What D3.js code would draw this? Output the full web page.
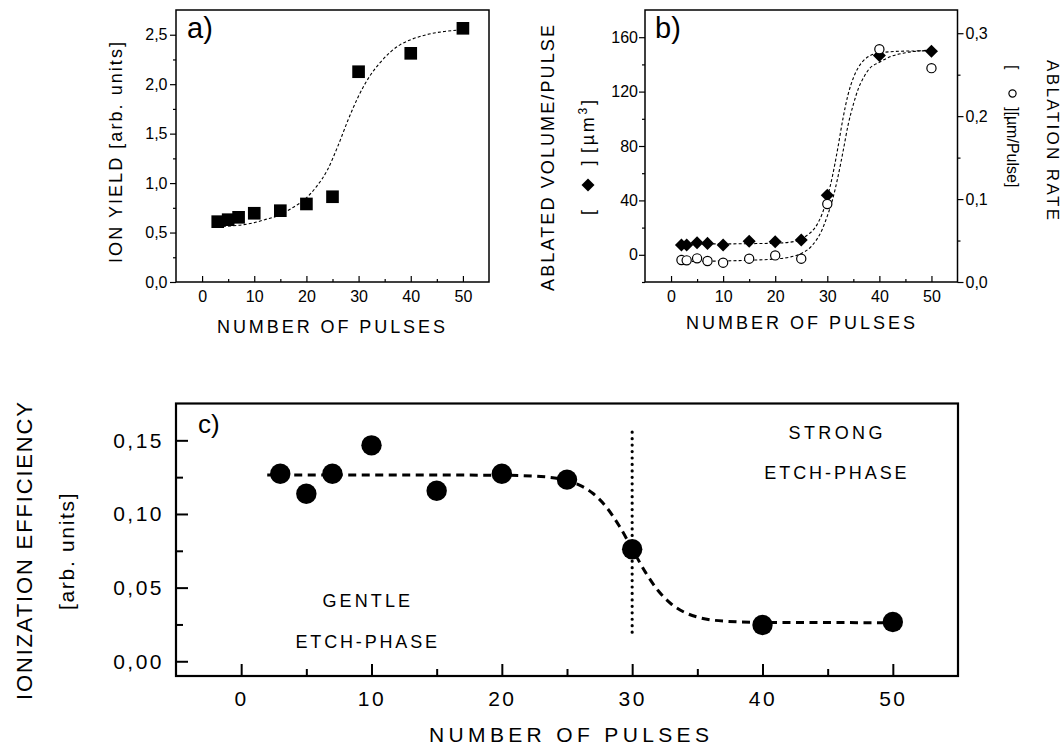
<!DOCTYPE html>
<html>
<head>
<meta charset="utf-8">
<script src="https://cdn.jsdelivr.net/npm/d3@7"></script>
<style>
  html, body { margin: 0; padding: 0; background: #fff; }
  svg { display: block; font-family: "Liberation Sans", Arial, Helvetica, sans-serif; }
</style>
</head>
<body>
<svg id="fig" width="1064" height="747"></svg>
<script>
// ---------- data ----------
// a) ion yield vs number of pulses
const aPulses   = [3, 5, 7, 10, 15, 20, 25, 30, 40, 50];
const aIonYield = [0.61, 0.63, 0.654, 0.695, 0.721, 0.789, 0.862, 2.126, 2.312, 2.565];
const aFitX = [3, 5, 8, 10, 12, 15, 17, 20, 22, 24, 26, 28, 30, 32, 34, 36, 38, 40, 43, 46, 50];
const aFitY = [0.557, 0.565, 0.58, 0.6, 0.63, 0.68, 0.74, 0.85, 0.97, 1.13, 1.37, 1.64, 1.88, 2.07, 2.21, 2.32, 2.40, 2.45, 2.50, 2.53, 2.55];

// b) ablated volume per pulse (left axis) and ablation rate (right axis)
const bPulses = [2, 3, 5, 7, 10, 15, 20, 25, 30, 40, 50];
const bVolume = [7.2, 7.2, 8.9, 8.4, 7.2, 9.9, 9.6, 10.9, 43.8, 146.5, 149.6];
const bRate   = [0.0265, 0.0261, 0.0285, 0.0253, 0.0233, 0.0281, 0.0321, 0.0281, 0.094, 0.2808, 0.2579];
const bVolFitX = [2, 10, 15, 20, 24, 26, 28, 29, 30, 31, 32, 33, 34, 35, 36, 37, 38, 40, 45, 50];
const bVolFitY = [8, 8, 8.2, 8.5, 10, 14, 22, 30, 42, 58, 78, 100, 118, 130, 138, 143, 146, 148.5, 149.8, 150];
const bRateFitX = [2, 10, 15, 20, 23, 25, 27, 29, 30, 31, 32, 33, 34, 35, 36, 37, 38, 40, 42, 45, 50];
const bRateFitY = [0.0245, 0.0254, 0.0262, 0.0278, 0.0303, 0.0344, 0.0434, 0.0631, 0.0795, 0.0992, 0.1255, 0.1566, 0.1895, 0.2141, 0.2338, 0.2469, 0.2567, 0.2649, 0.2715, 0.2764, 0.2797];

// c) ionization efficiency
const cPulses     = [3, 5, 7, 10, 15, 20, 25, 30, 40, 50];
const cEfficiency = [0.1273, 0.1137, 0.1273, 0.1466, 0.1158, 0.1273, 0.1233, 0.0761, 0.0246, 0.0267];
const cFitX = [2, 10, 20, 23, 25, 26, 27, 28, 29, 30, 31, 32, 33, 34, 35, 37, 40, 50];
const cFitY = [0.1265, 0.1265, 0.1263, 0.1254, 0.1227, 0.1194, 0.1139, 0.1049, 0.092, 0.0764, 0.0607, 0.0479, 0.0389, 0.0333, 0.030, 0.0273, 0.0264, 0.0262];
const cPhaseBoundary = 30;
const cBoundaryRange = [0.0183, 0.1555];

// tick values
const pulseTicks      = [0, 10, 20, 30, 40, 50];
const pulseMinorTicks = [5, 15, 25, 35, 45];
const aYTicks      = [0, 0.5, 1.0, 1.5, 2.0, 2.5];
const aYMinorTicks = [0.25, 0.75, 1.25, 1.75, 2.25];
const bLeftTicks       = [0, 40, 80, 120, 160];
const bLeftMinorTicks  = [-20, 20, 60, 100, 140];
const bRightTicks      = [0, 0.1, 0.2, 0.3];
const bRightMinorTicks = [0.05, 0.15, 0.25];
const cYTicks      = [0, 0.05, 0.10, 0.15];
const cYMinorTicks = [0.025, 0.075, 0.125];

// ---------- helpers ----------
const svg = d3.select("#fig");
const FONT = '"Liberation Sans", Arial, Helvetica, sans-serif';
const INK = "#000";
const comma = d3.formatLocale({ decimal: ",", thousands: ".", grouping: [3], currency: ["", ""] });
const f1 = comma.format(".1f"), f2 = comma.format(".2f"), fInt = d3.format("d");

function styleAxis(g, fontSize, sw, spacing) {
  g.attr("font-family", FONT).attr("font-size", null);
  g.select(".domain").remove();
  g.selectAll(".tick line").attr("stroke", INK).attr("stroke-width", sw);
  g.selectAll(".tick text").attr("fill", INK).style("font-size", fontSize + "px")
    .style("letter-spacing", (spacing || 0) + "px");
}

function axis(maker, scale, ticks, minor, fmt, major, minLen, pad, pos, fontSize, sw, spacing) {
  const g = svg.append("g").attr("transform", pos);
  g.call(maker(scale).tickValues(minor).tickFormat("").tickSizeInner(minLen).tickSizeOuter(0));
  styleAxis(g, fontSize, sw);
  const g2 = svg.append("g").attr("transform", pos);
  g2.call(maker(scale).tickValues(ticks).tickFormat(fmt).tickSizeInner(major).tickSizeOuter(0).tickPadding(pad));
  styleAxis(g2, fontSize, sw, spacing);
  return g2;
}

function label(x, y, txt, size, len, rot, anchor) {
  const t = svg.append("text")
    .attr("transform", `translate(${x},${y})` + (rot ? ` rotate(${rot})` : ""))
    .attr("text-anchor", anchor || "middle")
    .attr("font-size", size).attr("fill", INK)
    .text(txt);
  if (len) t.attr("textLength", len).attr("lengthAdjust", "spacing");
  return t;
}

function frame(x0, y0, x1, y1, sw) {
  svg.append("rect").attr("x", x0).attr("y", y0).attr("width", x1 - x0).attr("height", y1 - y0)
    .attr("fill", "none").attr("stroke", INK).attr("stroke-width", sw);
}

// ---------- panel a ----------
const aL = 176, aR = 489, aT = 10, aB = 282;
const xA = d3.scaleLinear([-5, 55], [aL, aR]);
const yA = d3.scaleLinear([0, 2.75], [aB, aT]);

axis(d3.axisBottom, xA, pulseTicks, pulseMinorTicks, fInt, -6, -3, 8.5, `translate(0,${aB})`, 16, 1.2);
axis(d3.axisLeft, yA, aYTicks, aYMinorTicks, f1, 6, 3, 2.5, `translate(${aL},0)`, 16, 1.2);

svg.append("path")
  .datum(d3.zip(aFitX, aFitY))
  .attr("fill", "none").attr("stroke", INK).attr("stroke-width", 1.1)
  .attr("stroke-dasharray", "3,2.2")
  .attr("d", d3.line().x(d => xA(d[0])).y(d => yA(d[1])).curve(d3.curveMonotoneX));

svg.append("g").selectAll("path")
  .data(d3.zip(aPulses, aIonYield)).join("path")
  .attr("transform", d => `translate(${xA(d[0])},${yA(d[1])})`)
  .attr("d", d3.symbol(d3.symbolSquare, 160))
  .attr("fill", INK);

frame(aL, aT, aR, aB, 1.5);
label(187, 38, "a)", 29, null, 0, "start");
label(331, 333, "NUMBER OF PULSES", 18, 228);
label(122, 152.5, "ION YIELD [arb. units]", 18, 221, -90);

// ---------- panel b ----------
const bL = 645, bR = 957.5, bT = 10, bB = 282;
const xB  = d3.scaleLinear([-5, 55], [bL, bR]);
const yBL = d3.scaleLinear([-20, 180], [bB, bT]);
const yBR = d3.scaleLinear([0, 0.328], [bB, bT]);

axis(d3.axisBottom, xB, pulseTicks, pulseMinorTicks, fInt, -6, -3, 8.5, `translate(0,${bB})`, 16, 1.2);
axis(d3.axisLeft, yBL, bLeftTicks, bLeftMinorTicks, fInt, 6, 3, 1, `translate(${bL},0)`, 16, 1.2);
axis(d3.axisRight, yBR, bRightTicks, bRightMinorTicks, f1, 6, 3, 2, `translate(${bR},0)`, 16, 1.2);

const fitLine = (xs, ys, y) => d3.line().x(d => xB(d[0])).y(d => y(d[1])).curve(d3.curveMonotoneX)(d3.zip(xs, ys));
svg.append("path").attr("d", fitLine(bVolFitX, bVolFitY, yBL))
  .attr("fill", "none").attr("stroke", INK).attr("stroke-width", 1.1).attr("stroke-dasharray", "3,2.2");
svg.append("path").attr("d", fitLine(bRateFitX, bRateFitY, yBR))
  .attr("fill", "none").attr("stroke", INK).attr("stroke-width", 1.1).attr("stroke-dasharray", "3,2.2");

const diamond = d3.symbol(d3.symbolSquare, 85);
svg.append("g").selectAll("path")
  .data(d3.zip(bPulses, bVolume)).join("path")
  .attr("transform", d => `translate(${xB(d[0])},${yBL(d[1])}) rotate(45)`)
  .attr("d", diamond).attr("fill", INK);

svg.append("g").selectAll("circle")
  .data(d3.zip(bPulses, bRate)).join("circle")
  .attr("cx", d => xB(d[0])).attr("cy", d => yBR(d[1])).attr("r", 4.6)
  .attr("fill", "#fff").attr("stroke", INK).attr("stroke-width", 1.2);

frame(bL, bT, bR, bB, 1.5);
label(655, 38, "b)", 29, null, 0, "start");
label(800.5, 328.5, "NUMBER OF PULSES", 18, 229);
label(554, 158, "ABLATED VOLUME/PULSE", 18, 266, -90);

// left unit line: [ ◆ ] [µm³]
const bUnitL = svg.append("g").attr("transform", "translate(594,157.5) rotate(-90)").attr("font-size", 18).attr("fill", INK);
bUnitL.append("text").attr("x", -57.5).attr("text-anchor", "start").text("[");
bUnitL.append("path").attr("transform", "translate(-27.5,-6) rotate(45)").attr("d", diamond).attr("fill", INK);
bUnitL.append("text").attr("x", -5.5).attr("text-anchor", "middle").text("]");
const muL = bUnitL.append("text").attr("x", 4.5).attr("text-anchor", "start")
  .attr("textLength", 53).attr("lengthAdjust", "spacing");
muL.append("tspan").text("[µm");
muL.append("tspan").attr("dy", -7).attr("font-size", 12).text("3");
muL.append("tspan").attr("dy", 7).text("]");

// right axis title and unit line: [ ○ ][µm/Pulse]
label(1047, 140, "ABLATION RATE", 17, 160, 90);
const bUnitR = svg.append("g").attr("transform", "translate(1007,0) rotate(90)").attr("font-size", 16).attr("fill", INK);
bUnitR.append("text").attr("x", 65).attr("text-anchor", "start").text("[");
bUnitR.append("circle").attr("cx", 93.5).attr("cy", -5.5).attr("r", 3.6)
  .attr("fill", "#fff").attr("stroke", INK).attr("stroke-width", 1.2);
bUnitR.append("text").attr("x", 107).attr("text-anchor", "start").text("][µm/Pulse]");

// ---------- panel c ----------
const cL = 176, cR = 958, cT = 403.5, cB = 676;
const xC = d3.scaleLinear([-5, 55], [cL, cR]);
const yC = d3.scaleLinear([-0.01, 0.175], [cB, cT]);

axis(d3.axisBottom, xC, pulseTicks, pulseMinorTicks, fInt, -12, -7, 15.5, `translate(0,${cB})`, 21, 2, 2.5);
axis(d3.axisLeft, yC, cYTicks, cYMinorTicks, f2, -12, -7, 12, `translate(${cL},0)`, 21, 2, 2.5);

// phase boundary
svg.append("line")
  .attr("x1", xC(cPhaseBoundary)).attr("x2", xC(cPhaseBoundary))
  .attr("y1", yC(cBoundaryRange[1])).attr("y2", yC(cBoundaryRange[0]))
  .attr("stroke", INK).attr("stroke-width", 3.2).attr("stroke-linecap", "round")
  .attr("stroke-dasharray", "0,6.45");

svg.append("path")
  .datum(d3.zip(cFitX, cFitY))
  .attr("fill", "none").attr("stroke", INK).attr("stroke-width", 3)
  .attr("stroke-dasharray", "8,5.5")
  .attr("d", d3.line().x(d => xC(d[0])).y(d => yC(d[1])).curve(d3.curveMonotoneX));

svg.append("g").selectAll("circle")
  .data(d3.zip(cPulses, cEfficiency)).join("circle")
  .attr("cx", d => xC(d[0])).attr("cy", d => yC(d[1])).attr("r", 10.2)
  .attr("fill", INK);

frame(cL, cT, cR, cB, 2.2);
label(198, 433, "c)", 26, null, 0, "start");
label(xC(9.6), yC(0.0369), "GENTLE", 18, 87.7);
label(xC(9.6), yC(0.009), "ETCH-PHASE", 18, 141.6);
label(xC(45.6), yC(0.1512), "STRONG", 18, 94);
label(xC(45.6), yC(0.1237), "ETCH-PHASE", 18, 142.3);
label(569, 742, "NUMBER OF PULSES", 21, 280);
label(31.5, 551, "IONIZATION EFFICIENCY", 22, 298, -90);
label(74, 551.7, "[arb. units]", 21, 116.7, -90);
</script>
</body>
</html>
